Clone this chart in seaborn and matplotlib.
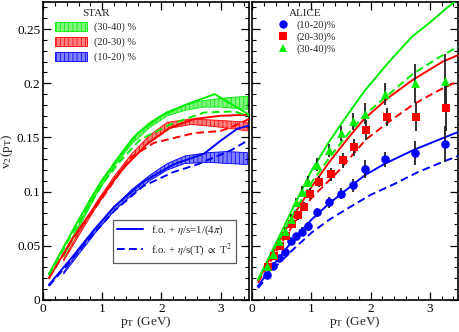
import numpy as np
import pandas as pd
import matplotlib
matplotlib.use('Agg')
import matplotlib.pyplot as plt
import seaborn as sns
from matplotlib.patches import Patch
from matplotlib.lines import Line2D
from matplotlib.ticker import MultipleLocator, FixedLocator, FixedFormatter

# ---------------- data ----------------
centralities = ["(10-20)", "(20-30)", "(30-40)"]
colors = {"(10-20)": "#0000ff", "(20-30)": "#ff0000", "(30-40)": "#00ee00"}

# Left panel: hydro curves compared to STAR
L_solid_blue_pt = [0.1, 0.5, 0.85, 1.2, 1.69, 2.2, 2.72, 3.0, 3.28, 3.48]
L_solid_blue_v2 = [0.014, 0.040, 0.064, 0.086, 0.109, 0.125, 0.135, 0.147, 0.158, 0.161]
L_dash_blue_pt = [0.1, 0.5, 0.85, 1.2, 1.69, 2.2, 2.6, 3.17, 3.48]
L_dash_blue_v2 = [0.013, 0.038, 0.061, 0.082, 0.105, 0.118, 0.125, 0.138, 0.148]
L_solid_red_pt = [0.1, 0.5, 1.0, 1.31, 1.76, 2.15, 2.55, 3.0, 3.48]
L_solid_red_v2 = [0.020, 0.057, 0.096, 0.119, 0.144, 0.159, 0.167, 0.170, 0.171]
L_dash_red_pt = [0.1, 0.5, 1.0, 1.47, 1.87, 2.55, 3.0, 3.2, 3.48]
L_dash_red_v2 = [0.020, 0.056, 0.094, 0.131, 0.145, 0.154, 0.156, 0.160, 0.167]
L_solid_green_pt = [0.1, 0.3, 0.5, 0.8, 1.0, 1.3, 1.6, 2.0, 2.4, 2.9, 3.2, 3.48]
L_solid_green_v2 = [0.024, 0.044, 0.064, 0.093, 0.111, 0.133, 0.154, 0.170, 0.180, 0.190, 0.180, 0.171]
L_dash_green_pt = [0.1, 0.5, 1.0, 1.3, 1.64, 2.15, 2.72, 3.22, 3.48]
L_dash_green_v2 = [0.023, 0.062, 0.107, 0.128, 0.148, 0.162, 0.173, 0.174, 0.170]

# STAR bands
star_blue_pt = [0.35, 0.6, 0.9, 1.2, 1.5, 1.8, 2.1, 2.4, 2.8, 3.1, 3.45]
star_blue_lo = [0.024, 0.042, 0.063, 0.082, 0.097, 0.110, 0.120, 0.126, 0.127, 0.126, 0.125]
star_blue_hi = [0.026, 0.045, 0.067, 0.086, 0.102, 0.115, 0.126, 0.133, 0.136, 0.137, 0.136]
star_red_pt = [0.35, 0.6, 0.9, 1.2, 1.5, 1.8, 2.1, 2.5, 2.9, 3.2, 3.45]
star_red_lo = [0.036, 0.059, 0.086, 0.110, 0.130, 0.146, 0.158, 0.162, 0.160, 0.158, 0.156]
star_red_hi = [0.038, 0.062, 0.090, 0.114, 0.135, 0.152, 0.164, 0.167, 0.166, 0.165, 0.164]
star_green_pt = [0.35, 0.6, 0.9, 1.2, 1.5, 1.8, 2.1, 2.4, 2.7, 3.0, 3.2, 3.45]
star_green_lo = [0.040, 0.066, 0.097, 0.123, 0.144, 0.159, 0.170, 0.175, 0.178, 0.178, 0.177, 0.176]
star_green_hi = [0.042, 0.069, 0.101, 0.127, 0.149, 0.164, 0.174, 0.180, 0.184, 0.186, 0.187, 0.188]

# Right panel: hydro curves compared to ALICE
R_solid_blue_pt = [0.1, 0.4, 0.7, 1.0, 1.3, 1.6, 1.9, 2.25, 2.75, 3.25, 3.48]
R_solid_blue_v2 = [0.013, 0.035, 0.056, 0.074, 0.089, 0.102, 0.115, 0.126, 0.139, 0.150, 0.155]
R_dash_blue_pt = [0.1, 0.4, 0.7, 1.0, 1.3, 1.6, 2.0, 2.4, 2.8, 3.2, 3.48]
R_dash_blue_v2 = [0.011, 0.031, 0.047, 0.062, 0.074, 0.084, 0.097, 0.107, 0.118, 0.127, 0.133]
R_solid_red_pt = [0.1, 0.4, 0.7, 1.0, 1.3, 1.6, 1.89, 2.31, 2.71, 3.22, 3.48]
R_solid_red_v2 = [0.018, 0.048, 0.078, 0.104, 0.127, 0.148, 0.167, 0.187, 0.203, 0.220, 0.226]
R_dash_red_pt = [0.1, 0.4, 0.7, 1.0, 1.46, 1.92, 2.3, 2.71, 3.1, 3.48]
R_dash_red_v2 = [0.016, 0.044, 0.070, 0.094, 0.119, 0.148, 0.164, 0.180, 0.192, 0.202]
R_solid_green_pt = [0.1, 0.4, 0.7, 1.0, 1.3, 1.6, 1.9, 2.3, 2.7, 3.0, 3.3, 3.48]
R_solid_green_v2 = [0.019, 0.052, 0.086, 0.119, 0.146, 0.170, 0.193, 0.219, 0.243, 0.256, 0.270, 0.278]
R_dash_green_pt = [0.1, 0.4, 0.7, 1.0, 1.3, 1.6, 1.9, 2.25, 2.7, 3.1, 3.48]
R_dash_green_v2 = [0.018, 0.049, 0.080, 0.108, 0.131, 0.152, 0.171, 0.187, 0.208, 0.222, 0.234]

# ALICE data
alice_pt = [0.25, 0.35, 0.45, 0.55, 0.65, 0.75, 0.85, 0.95, 1.1, 1.3, 1.5, 1.7, 1.9, 2.25, 2.75, 3.25]
alice_red_pt = [0.27, 0.37, 0.47, 0.58, 0.68, 0.78, 0.88, 0.98, 1.13, 1.33, 1.53, 1.72, 1.93, 2.27, 2.77, 3.28]
alice_blue = [0.023, 0.031, 0.039, 0.044, 0.054, 0.059, 0.063, 0.068, 0.081, 0.090, 0.098, 0.106, 0.121, 0.130, 0.136, 0.144]
alice_blue_err = [0.002, 0.002, 0.002, 0.003, 0.003, 0.003, 0.004, 0.004, 0.004, 0.005, 0.005, 0.006, 0.008, 0.007, 0.011, 0.017]
alice_red = [0.030, 0.041, 0.050, 0.059, 0.070, 0.078, 0.086, 0.098, 0.109, 0.116, 0.129, 0.141, 0.157, 0.169, 0.169, 0.177]
alice_red_err = [0.002, 0.002, 0.003, 0.003, 0.003, 0.004, 0.004, 0.005, 0.005, 0.006, 0.007, 0.008, 0.009, 0.008, 0.013, 0.021]
alice_green = [0.031, 0.042, 0.054, 0.064, 0.075, 0.090, 0.100, 0.109, 0.125, 0.138, 0.154, 0.165, 0.172, 0.190, 0.200, 0.202]
alice_green_err = [0.002, 0.003, 0.003, 0.003, 0.004, 0.004, 0.005, 0.005, 0.006, 0.006, 0.007, 0.008, 0.010, 0.010, 0.018, 0.025]

yticks = [0, 0.05, 0.1, 0.15, 0.2, 0.25]
ytick_labels = ["0", "0.05", "0.1", "0.15", "0.2", "0.25"]
xticks = [0, 1, 2, 3]
xtick_labels = ["0", "1", "2", "3"]

# ---------------- style ----------------
sns.set_theme(style='ticks')
plt.rcParams['font.family'] = ['Liberation Serif', 'DejaVu Serif']
plt.rcParams['mathtext.fontset'] = 'stix'
plt.rcParams['axes.edgecolor'] = 'black'
plt.rcParams['hatch.linewidth'] = 0.5

def curves_df(spec):
    rows = []
    for cent, model, pts, vals in spec:
        for p, v in zip(pts, vals):
            rows.append(dict(pt=p, v2=v, cent=cent, model=model))
    return pd.DataFrame(rows)

left_df = curves_df([
    ("(10-20)", "ideal", L_solid_blue_pt, L_solid_blue_v2),
    ("(10-20)", "T2", L_dash_blue_pt, L_dash_blue_v2),
    ("(20-30)", "ideal", L_solid_red_pt, L_solid_red_v2),
    ("(20-30)", "T2", L_dash_red_pt, L_dash_red_v2),
    ("(30-40)", "ideal", L_solid_green_pt, L_solid_green_v2),
    ("(30-40)", "T2", L_dash_green_pt, L_dash_green_v2),
])
right_df = curves_df([
    ("(10-20)", "ideal", R_solid_blue_pt, R_solid_blue_v2),
    ("(10-20)", "T2", R_dash_blue_pt, R_dash_blue_v2),
    ("(20-30)", "ideal", R_solid_red_pt, R_solid_red_v2),
    ("(20-30)", "T2", R_dash_red_pt, R_dash_red_v2),
    ("(30-40)", "ideal", R_solid_green_pt, R_solid_green_v2),
    ("(30-40)", "T2", R_dash_green_pt, R_dash_green_v2),
])

fig = plt.figure(figsize=(4.6, 3.32), dpi=100)
axL = fig.add_axes([0.0935, 0.0964, 0.448, 0.8976])
axR = fig.add_axes([0.548, 0.0964, 0.448, 0.8976])

dash_map = {"ideal": "", "T2": (4, 2.2)}
band_alpha = 0.5
band_hatch = '||||'

# STAR bands
for pts, lo, hi, c in [(star_blue_pt, star_blue_lo, star_blue_hi, colors["(10-20)"]),
                       (star_red_pt, star_red_lo, star_red_hi, colors["(20-30)"]),
                       (star_green_pt, star_green_lo, star_green_hi, colors["(30-40)"])]:
    axL.fill_between(pts, lo, hi, facecolor=matplotlib.colors.to_rgba(c, band_alpha),
                     edgecolor=c, hatch=band_hatch, linewidth=0.6, zorder=2)

for ax, df in [(axL, left_df), (axR, right_df)]:
    sns.lineplot(data=df, x='pt', y='v2', hue='cent', style='model',
                 palette=colors, dashes=dash_map, estimator=None, sort=False,
                 legend=False, ax=ax, linewidth=1.4, zorder=3)

# ALICE points
alice_sets = [
    (alice_pt, alice_blue, alice_blue_err, colors["(10-20)"], 'o', 38),
    (alice_red_pt, alice_red, alice_red_err, colors["(20-30)"], 's', 30),
    (alice_pt, alice_green, alice_green_err, colors["(30-40)"], '^', 40),
]
for pts, vals, errs, c, m, s in alice_sets:
    axR.errorbar(pts, vals, yerr=errs, fmt='none', ecolor='#222222',
                 elinewidth=1.3, capsize=0, zorder=4)
    sns.scatterplot(x=pts, y=vals, color=c, marker=m, s=s, linewidth=0,
                    ax=axR, zorder=5, legend=False)

# axes formatting
for ax in (axL, axR):
    ax.set_xlim(0, 3.48)
    ax.set_ylim(0, 0.275)
    ax.xaxis.set_major_locator(FixedLocator(xticks))
    ax.xaxis.set_major_formatter(FixedFormatter(xtick_labels))
    ax.xaxis.set_minor_locator(MultipleLocator(0.2))
    ax.yaxis.set_major_locator(FixedLocator(yticks))
    ax.yaxis.set_major_formatter(FixedFormatter(ytick_labels))
    ax.yaxis.set_minor_locator(MultipleLocator(0.01))
    ax.tick_params(which='both', direction='in', top=True, right=True,
                   color='black', labelsize=9.5, labelcolor='black')
    ax.tick_params(which='major', length=6, width=0.9, pad=2)
    ax.tick_params(which='minor', length=3, width=0.8)
    for sp in ax.spines.values():
        sp.set_linewidth(1.2)
        sp.set_color('black')
    ax.set_xlabel(r"p$_\mathrm{T}$ (GeV)", fontsize=9.5, labelpad=-0.5)
    ax.set_ylabel("")

axR.tick_params(labelleft=False)
axL.set_ylabel(r"v$_2$(p$_\mathrm{T}$)", fontsize=9.5, labelpad=1.5)

# STAR legend
star_handles = [Patch(facecolor=matplotlib.colors.to_rgba(colors[c], band_alpha), edgecolor=colors[c],
                      hatch=band_hatch, linewidth=0.6)
                for c in ["(30-40)", "(20-30)", "(10-20)"]]
star_labels = ["(30-40) %", "(20-30) %", "(10-20) %"]
legS = axL.legend(star_handles, star_labels, title="STAR", loc='upper left',
                  bbox_to_anchor=(0.05, 0.985), frameon=False, fontsize=7.5,
                  title_fontsize=8, handlelength=3.0, handleheight=0.9,
                  handletextpad=0.7, labelspacing=0.45, borderaxespad=0, borderpad=0.2)
axL.add_artist(legS)

# model legend
model_handles = [Line2D([], [], color=colors["(10-20)"], lw=1.4),
                 Line2D([], [], color=colors["(10-20)"], lw=1.4, dashes=(4, 2.2))]
model_labels = [r"f.o. + $\eta$/s=1/(4$\pi$)", r"f.o. + $\eta$/s(T) $\propto$ T$^2$"]
legM = axL.legend(model_handles, model_labels, loc='lower right',
                  bbox_to_anchor=(0.937, 0.125), frameon=True, fancybox=False,
                  edgecolor='#333333', fontsize=7.8, handlelength=2.4,
                  handletextpad=0.7, labelspacing=0.4, borderaxespad=0, borderpad=0.4)
legM.get_frame().set_linewidth(0.9)

# ALICE legend
alice_handles = [Line2D([], [], ls='none', marker='o', color=colors["(10-20)"], ms=6.0, mew=0),
                 Line2D([], [], ls='none', marker='s', color=colors["(20-30)"], ms=5.2, mew=0),
                 Line2D([], [], ls='none', marker='^', color=colors["(30-40)"], ms=6.2, mew=0)]
alice_labels = ["(10-20)%", "(20-30)%", "(30-40)%"]
axR.legend(alice_handles, alice_labels, title="ALICE", loc='upper left',
           bbox_to_anchor=(0.1, 0.985), frameon=False, fontsize=7.5,
           title_fontsize=8, handlelength=1.5, handletextpad=0.6,
           labelspacing=0.25, borderaxespad=0, borderpad=0.2)

fig.savefig("out.png", dpi=100)
